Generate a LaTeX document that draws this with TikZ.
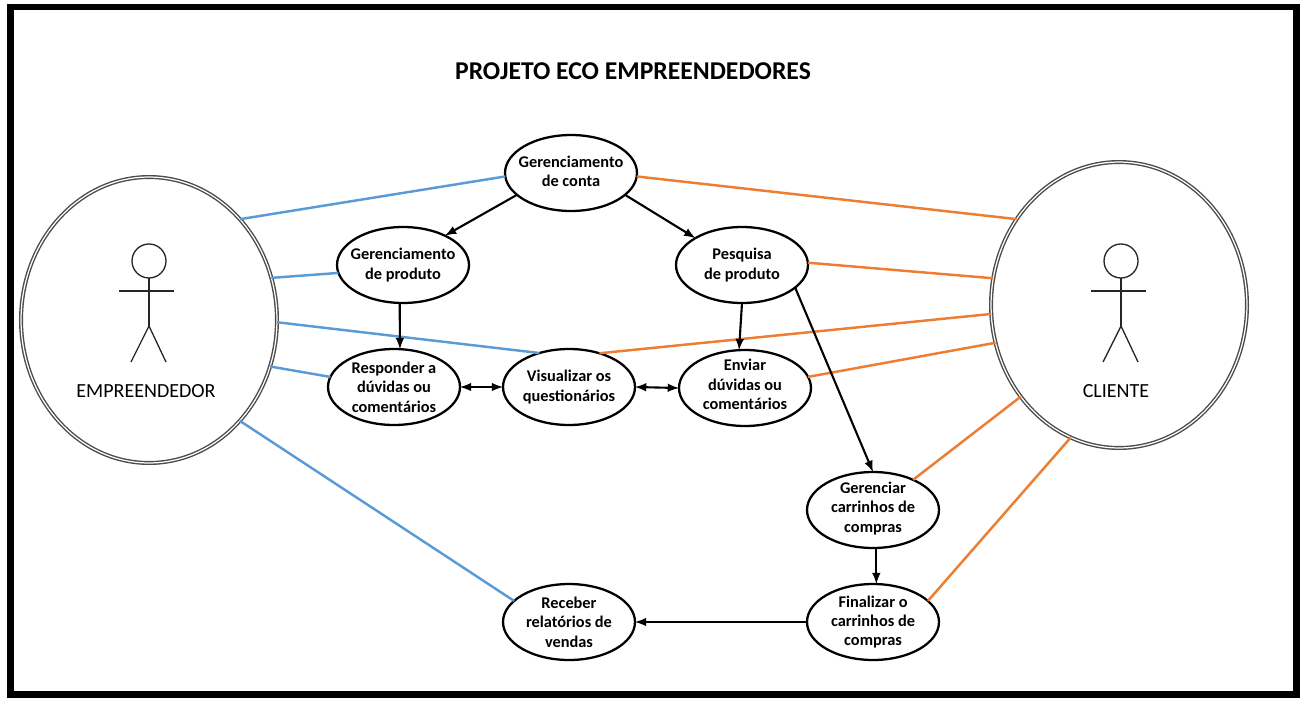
\documentclass[tikz,border=0pt]{standalone}
\usepackage{fontspec}
\setmainfont{Carlito}
\usetikzlibrary{shapes.geometric}
\definecolor{linkblue}{HTML}{5B9BD5}
\definecolor{linkorange}{HTML}{ED7D31}
\def\stickman(#1,#2){
	\draw[line width=0.75pt, color=black!85] (#1, #2-44) circle (17);
	\draw[line width=0.75pt, color=black!85] (#1, #2-27) -- (#1, #2+21);
	\draw[line width=0.75pt, color=black!85] (#1-30, #2-14) -- (#1+25, #2-14);
	\draw[line width=0.75pt, color=black!85] (#1-18, #2+57) -- (#1, #2+21) -- (#1+17, #2+57);
}
\tikzset{
	usecase/.style={draw, ellipse, line width=1.3pt, minimum width=2.64cm, minimum height=1.52cm, inner sep=0pt, outer sep=0pt},
	casetext/.style={inner sep=0pt, align=center, font=\fontsize{9.3pt}{11pt}\selectfont\bfseries},
	actor/.style={draw=black!70, ellipse, double, double distance=0.7pt, line width=0.8pt, minimum width=5.12cm, minimum height=5.72cm, inner sep=0pt, outer sep=0pt},
	actorname/.style={font=\fontsize{11.4pt}{13pt}\selectfont},
	bluelink/.style={line width=1.4pt, color=linkblue},
	orangelink/.style={line width=1.4pt, color=linkorange},
	flow/.style={line width=1.2pt, -latex},
	twoway/.style={line width=1.2pt, latex-latex}
}

\begin{document}
\begin{tikzpicture}[x=0.02cm, y=-0.02cm]
	%%%%% START %%%%%
	\useasboundingbox (0, 0) rectangle (1311, 703);
	
	\draw[line width=3.7pt] (10.5, 7) rectangle (1296.5, 694.5);
	\node[font=\fontsize{14.6pt}{17pt}\selectfont\bfseries] (title) at (633, 71) {PROJETO ECO EMPREENDEDORES};
	
	\node[actor] (empreendedor) at (149, 320) {};
	\node[actor] (cliente) at (1119, 305) {};
	\stickman(149,305)
	\stickman(1121,305)
	\node[actorname] (empreendedorname) at (146, 391) {EMPREENDEDOR};
	\node[actorname] (clientename) at (1116, 391) {CLIENTE};
	
	\node[usecase, label={[casetext, yshift=1pt]center:Gerenciamento\\de conta}] (conta) at (571, 173) {};
	\node[usecase, label={[casetext]center:Gerenciamento\\de produto}] (produto) at (403, 265) {};
	\node[usecase, label={[casetext]center:Pesquisa\\de produto}] (pesquisa) at (742, 265) {};
	\node[usecase, label={[casetext]center:Responder a\\dúvidas ou\\comentários}] (responder) at (394, 387) {};
	\node[usecase, label={[casetext]center:Visualizar os\\questionários}] (visualizar) at (569, 387) {};
	\node[usecase, label={[casetext, yshift=2pt]center:Enviar\\dúvidas ou\\comentários}] (enviar) at (745, 388) {};
	\node[usecase, label={[casetext, yshift=1pt]center:Gerenciar\\carrinhos de\\compras}] (gerenciar) at (873, 510) {};
	\node[usecase, label={[casetext]center:Finalizar o\\carrinhos de\\compras}] (finalizar) at (873, 622) {};
	\node[usecase, label={[casetext]center:Receber\\relatórios de\\vendas}] (receber) at (569, 622) {};
	
	\draw[bluelink] (empreendedor.48) -- (conta.183);
	\draw[bluelink] (empreendedor.19) -- (produto.187);
	\draw[bluelink] (empreendedor.-1) -- (visualizar.131);
	\draw[bluelink] (empreendedor.-21) -- (responder.171);
	\draw[bluelink] (empreendedor.-48) -- (receber.159);
	
	\draw[orangelink] (conta.-3) -- (cliente.140);
	\draw[orangelink] (pesquisa.2) -- (cliente.168);
	\draw[orangelink] (visualizar.48) -- (cliente.184);
	\draw[orangelink] (enviar.10) -- (cliente.197);
	\draw[orangelink] (gerenciar.37) -- (cliente.223);
	\draw[orangelink] (finalizar.21) -- (cliente.250);
	
	\draw[flow] (conta.202) -- (produto.35);
	\draw[flow] (conta.-22) -- (pesquisa.150);
	\draw[flow] (produto.265) -- (responder.81);
	\draw[flow] (pesquisa.south) -- (enviar.99);
	\draw[flow] (pesquisa.-23) -- (gerenciar.north);
	\draw[flow] (gerenciar.275) -- (finalizar.85);
	\draw[flow] (finalizar.west) -- (receber.east);
	\draw[twoway] (responder.east) -- (visualizar.west);
	\draw[twoway] (visualizar.east) -- (enviar.west);
	%%%%% END %%%%%
\end{tikzpicture}
\end{document}
